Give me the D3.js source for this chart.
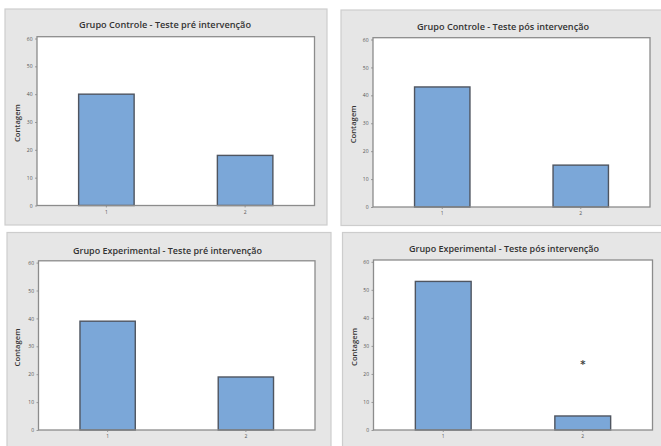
<!DOCTYPE html>
<html>
<head>
<meta charset="utf-8">
<script src="https://cdn.jsdelivr.net/npm/d3@7"></script>
<style>
  html, body { margin: 0; padding: 0; background: #ffffff; }
  svg { display: block; }
</style>
</head>
<body>
<svg id="chart" width="661" height="446"></svg>
<script>
// ---- data ----
const categories = ["1", "2"];
const yTicks = [0, 10, 20, 30, 40, 50, 60];
const titles = [
  "Grupo Controle -  Teste pré intervenção",
  "Grupo Controle - Teste pós intervenção",
  "Grupo Experimental - Teste pré intervenção",
  "Grupo Experimental - Teste pós intervenção"
];
const controlePre = [40, 18];
const controlePos = [43, 15];
const experimentalPre = [39, 19];
const experimentalPos = [53, 5];
const yLabel = "Contagem";
const markerCategory = "2";   // stray "*" symbol in the last panel
const markerValue = 24;

const seriesList = [controlePre, controlePos, experimentalPre, experimentalPos];

// ---- layout (positions only) ----
const panels = [
  { bx: 5,   by: 9,     bw: 322, bh: 216, px: 37,    py: 36.7, pw: 277.5, ph: 168.8, tx: 165,   ty: 24,  tl: 172, lx: 17 },
  { bx: 341, by: 10,    bw: 325, bh: 215.5, px: 373, py: 37.7, pw: 277,   ph: 169.3, tx: 503,   ty: 26,  tl: 172, lx: 353 },
  { bx: 7,   by: 232.5, bw: 324, bh: 220, px: 38.5,  py: 260.8, pw: 276.5, ph: 169.2, tx: 167.5, ty: 250, tl: 189, lx: 17 },
  { bx: 342.5, by: 232.5, bw: 325, bh: 220, px: 373.5, py: 260, pw: 279, ph: 170,   tx: 504,   ty: 248.5, tl: 190, lx: 354 }
];

const svg = d3.select("#chart");

panels.forEach((p, i) => {
  const values = seriesList[i];
  const g = svg.append("g");

  // panel background
  g.append("rect")
    .attr("x", p.bx).attr("y", p.by)
    .attr("width", p.bw).attr("height", p.bh)
    .attr("fill", "#e6e6e6")
    .attr("stroke", "#cdcdcd").attr("stroke-width", 1.2);

  // plot area
  g.append("rect")
    .attr("x", p.px).attr("y", p.py)
    .attr("width", p.pw).attr("height", p.ph)
    .attr("fill", "#ffffff");

  const x = d3.scaleBand()
    .domain(categories)
    .range([p.px, p.px + p.pw])
    .paddingInner(0.6).paddingOuter(0.3);

  const y = d3.scaleLinear()
    .domain([0, 60])
    .range([p.py + p.ph, p.py + 1.8]);

  // bars
  g.selectAll("rect.bar")
    .data(values)
    .enter().append("rect")
    .attr("class", "bar")
    .attr("x", (d, j) => x(categories[j]))
    .attr("y", d => y(d))
    .attr("width", x.bandwidth())
    .attr("height", d => y(0) - y(d))
    .attr("fill", "#7ba7d8")
    .attr("stroke", "#4f5560")
    .attr("stroke-width", 1.4);

  // frame
  g.append("rect")
    .attr("x", p.px).attr("y", p.py)
    .attr("width", p.pw).attr("height", p.ph)
    .attr("fill", "none")
    .attr("stroke", "#8c8c8c").attr("stroke-width", 1.3);

  // y axis
  const yAxis = d3.axisLeft(y).tickValues(yTicks).tickSize(2).tickPadding(2.5);
  const ya = g.append("g").attr("transform", `translate(${p.px},0)`).call(yAxis);
  ya.select(".domain").remove();
  ya.selectAll(".tick line").attr("stroke", "#888").attr("stroke-width", 0.8);
  ya.selectAll(".tick text")
    .attr("font-family", "'Open Sans', 'DejaVu Sans', sans-serif")
    .attr("font-size", 5).attr("fill", "#555");

  // x axis
  const xAxis = d3.axisBottom(x).tickSize(2).tickPadding(2.5);
  const xa = g.append("g").attr("transform", `translate(0,${p.py + p.ph})`).call(xAxis);
  xa.select(".domain").remove();
  xa.selectAll(".tick line").attr("stroke", "#888").attr("stroke-width", 0.8);
  xa.selectAll(".tick text")
    .attr("font-family", "'Open Sans', 'DejaVu Sans', sans-serif")
    .attr("font-size", 5).attr("fill", "#555");

  // title
  g.append("text")
    .attr("x", p.tx).attr("y", p.ty + 3.5)
    .attr("text-anchor", "middle")
    .attr("font-family", "'Open Sans', 'Noto Sans', sans-serif")
    .attr("font-weight", 600)
    .attr("font-size", 9.5)
    .attr("fill", "#333")
    .attr("textLength", p.tl)
    .attr("lengthAdjust", "spacingAndGlyphs")
    .text(titles[i]);

  // y label
  const cy = p.py + p.ph / 2 + 2;
  g.append("text")
    .attr("transform", `translate(${p.lx + 3},${cy}) rotate(-90)`)
    .attr("text-anchor", "middle")
    .attr("font-family", "'Open Sans', 'Noto Sans', sans-serif")
    .attr("font-weight", 600)
    .attr("font-size", 7.5)
    .attr("fill", "#333")
    .attr("textLength", 38)
    .attr("lengthAdjust", "spacingAndGlyphs")
    .text(yLabel);

  if (i === 3) {
    g.append("text")
      .attr("x", x(markerCategory) + x.bandwidth() / 2)
      .attr("y", y(markerValue))
      .attr("dy", 5.5)
      .attr("text-anchor", "middle")
      .attr("font-family", "'DejaVu Sans', sans-serif")
      .attr("font-weight", "bold")
      .attr("font-size", 10)
      .attr("fill", "#444")
      .text("*");
  }
});
</script>
</body>
</html>
